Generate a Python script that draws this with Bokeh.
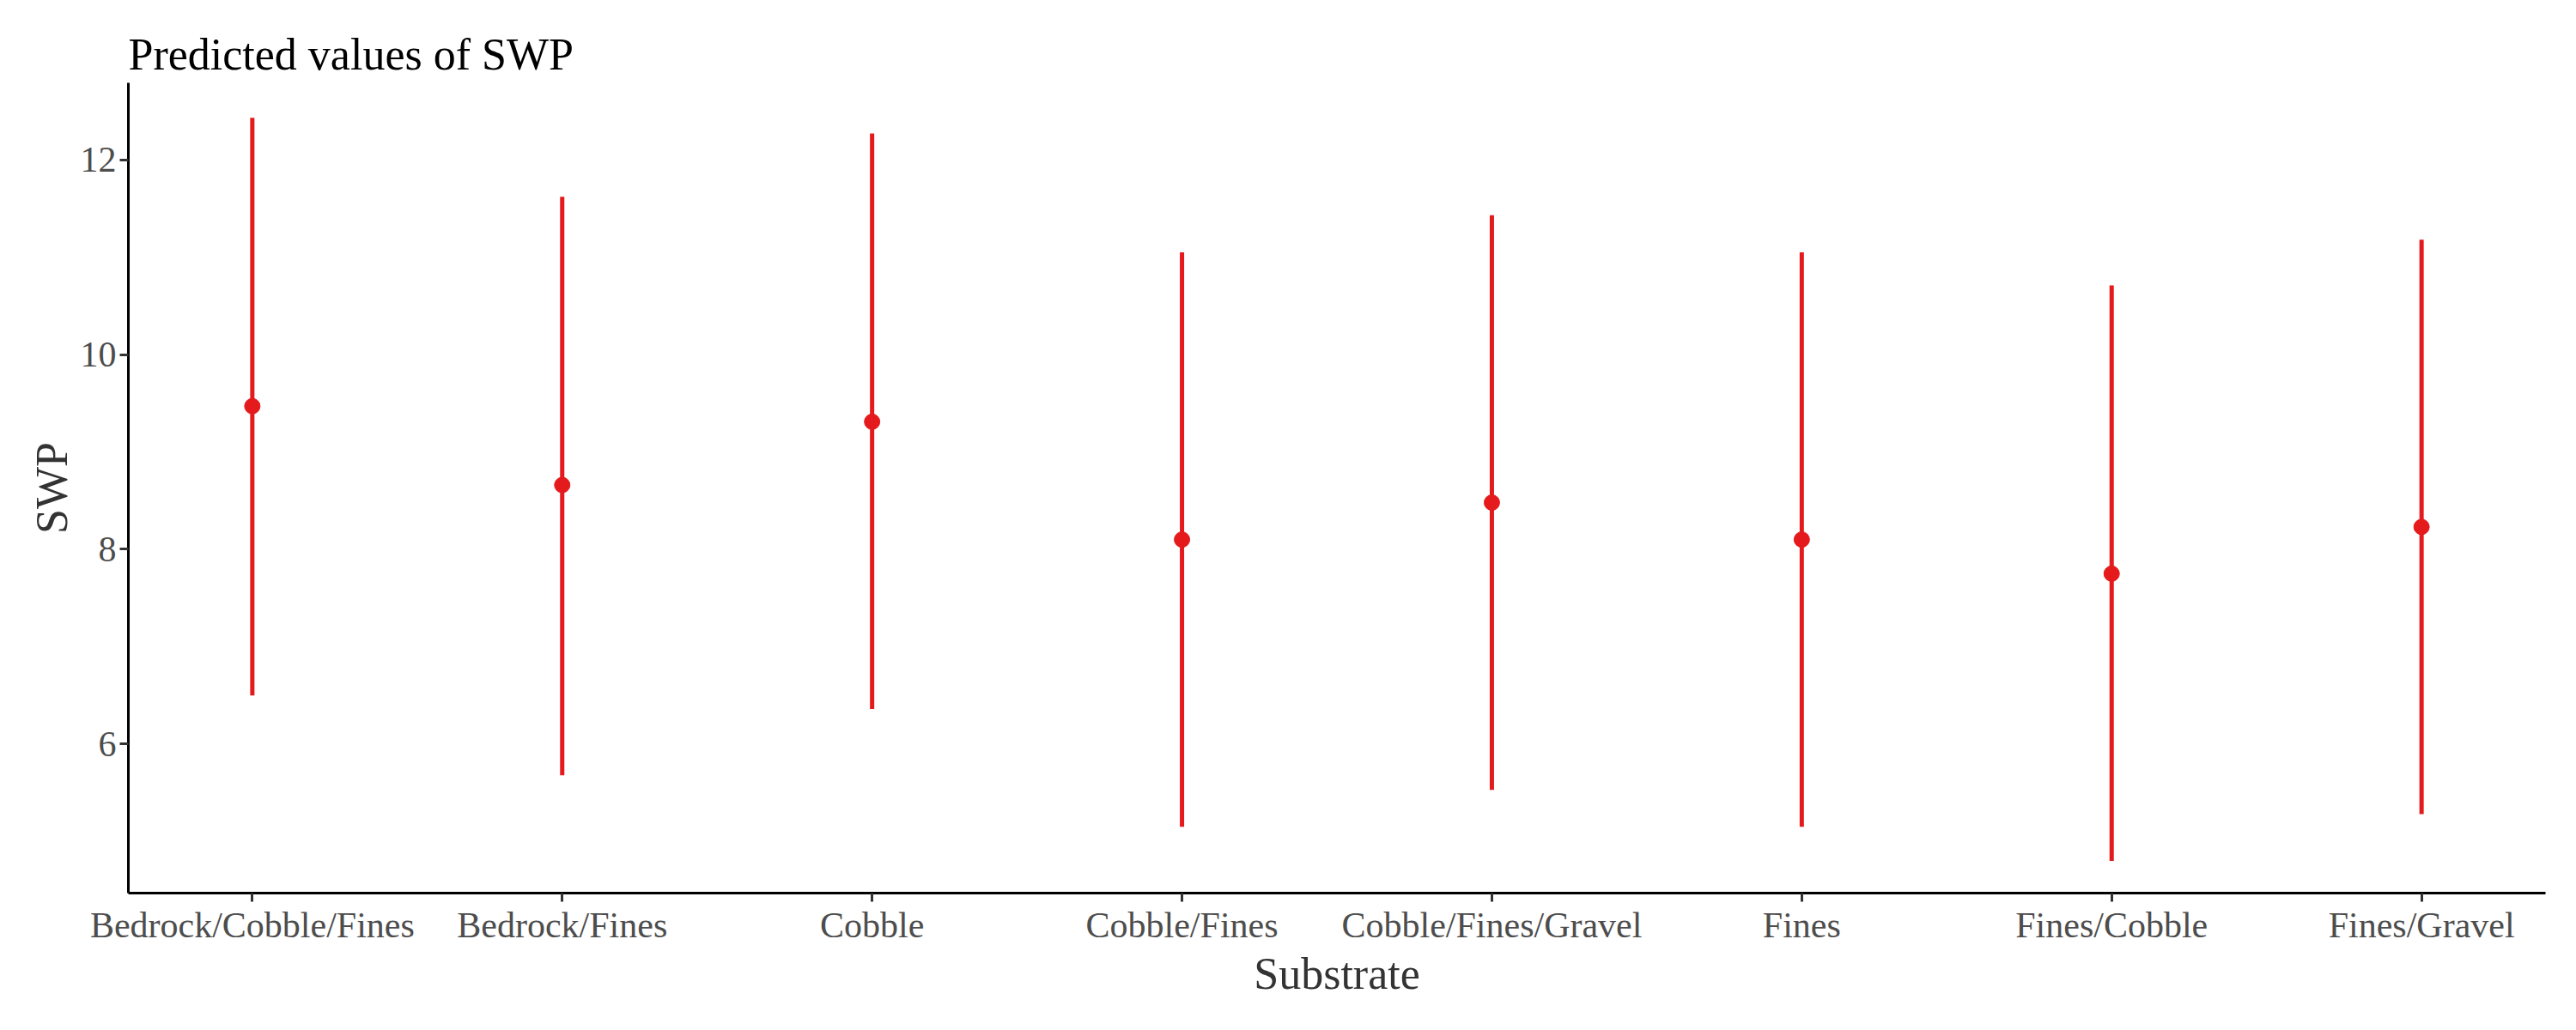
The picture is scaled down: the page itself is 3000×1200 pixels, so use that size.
from bokeh.plotting import figure
from bokeh.models import Range1d, FixedTicker
from bokeh.embed import file_html
from bokeh.resources import INLINE

substrates = ["Bedrock/Cobble/Fines", "Bedrock/Fines", "Cobble", "Cobble/Fines",
              "Cobble/Fines/Gravel", "Fines", "Fines/Cobble", "Fines/Gravel"]
predicted = [9.47, 8.66, 9.31, 8.10, 8.48, 8.10, 7.75, 8.23]
upper = [12.43, 11.62, 12.27, 11.05, 11.43, 11.05, 10.71, 11.18]
lower = [6.50, 5.68, 6.36, 5.15, 5.53, 5.15, 4.80, 5.28]

xs = list(range(1, len(substrates) + 1))
red = "#e41a1c"
serif = "Liberation Serif"

p = figure(width=2984, height=1165, output_backend="svg", toolbar_location=None,
           x_range=Range1d(0.6, 8.4), y_range=Range1d(4.47, 12.79),
           title="Predicted values of SWP",
           min_border_left=149, min_border_right=20, min_border_top=96, min_border_bottom=100)

p.segment(x0=xs, y0=lower, x1=xs, y1=upper, line_color=red, line_width=5)
p.scatter(x=xs, y=predicted, size=18, fill_color=red, line_color=red)

p.title.text_font = serif
p.title.text_font_size = "52px"
p.title.text_font_style = "normal"
p.title.text_color = "black"
p.title.align = "left"

p.xaxis.ticker = FixedTicker(ticks=xs)
p.xaxis.major_label_overrides = {x: s for x, s in zip(xs, substrates)}
p.yaxis.ticker = FixedTicker(ticks=[6, 8, 10, 12])
p.xaxis.axis_label = "Substrate"
p.yaxis.axis_label = "SWP"

for ax in (p.xaxis, p.yaxis):
    ax.axis_label_text_font = serif
    ax.axis_label_text_font_size = "52px"
    ax.axis_label_text_font_style = "normal"
    ax.axis_label_text_color = "#333333"
    ax.axis_label_standoff = 2
    ax.major_label_text_font = serif
    ax.major_label_text_font_size = "42px"
    ax.major_label_text_color = "#4d4d4d"
    ax.major_label_standoff = 4
    ax.axis_line_color = "black"
    ax.axis_line_width = 3
    ax.major_tick_line_color = "#333333"
    ax.major_tick_line_width = 3
    ax.major_tick_out = 10
    ax.major_tick_in = 0
    ax.minor_tick_line_color = None

p.grid.grid_line_color = None
p.outline_line_color = None

open("out.html", "w").write(file_html(p, INLINE))
